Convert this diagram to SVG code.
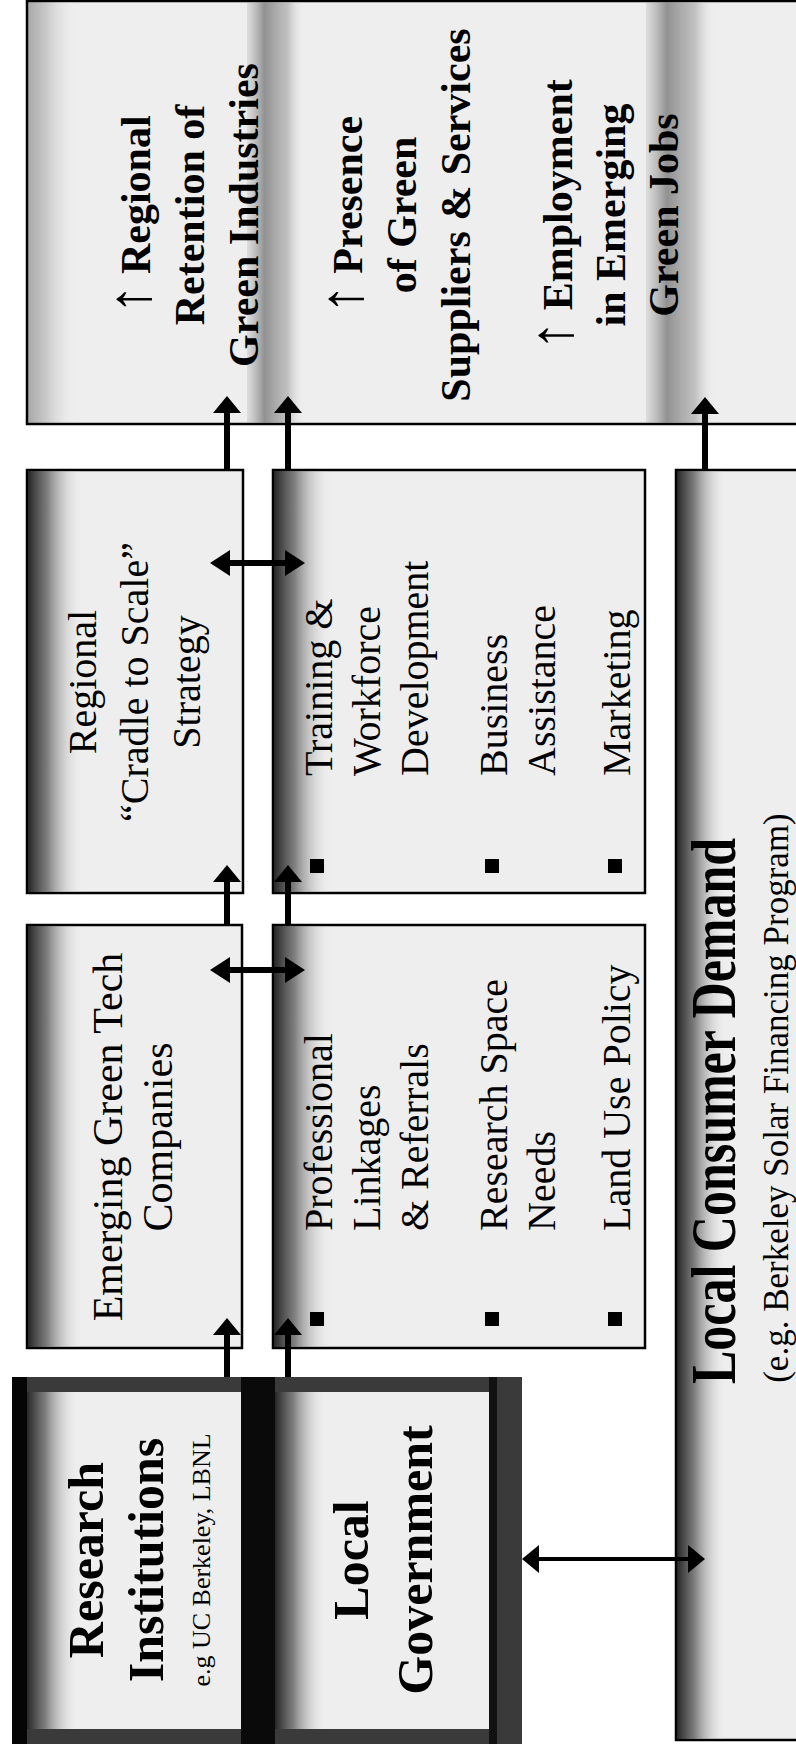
<svg xmlns="http://www.w3.org/2000/svg" width="796" height="1745" viewBox="0 0 796 1745">
<style>
.box{fill:#eeeeee;stroke:#000;stroke-width:2.5}
.t{font-family:"Liberation Serif","Times New Roman",serif;fill:#000}
.b{font-weight:bold}
.c{text-anchor:middle}
.r40{font-size:40px}
.r42{font-size:42px}
.b50{font-size:50px;font-weight:bold}
.b42{font-size:42px;font-weight:bold}
.arw{font-size:60px;font-weight:normal}
.sh{fill:url(#shade)}
.ln{stroke:#000;stroke-width:6;fill:none}
</style>
<defs>
<linearGradient id="shade" x1="0" y1="0" x2="0" y2="1">
<stop offset="0" stop-color="#262626" stop-opacity="1"/>
<stop offset="0.35" stop-color="#6a6a6a" stop-opacity="0.85"/>
<stop offset="1" stop-color="#eeeeee" stop-opacity="0"/>
</linearGradient>
<linearGradient id="band" x1="0" y1="0" x2="0" y2="1">
<stop offset="0" stop-color="#9a9a9a" stop-opacity="0.2"/>
<stop offset="0.3" stop-color="#7a7a7a" stop-opacity="0.8"/>
<stop offset="0.7" stop-color="#9a9a9a" stop-opacity="0.55"/>
<stop offset="1" stop-color="#eeeeee" stop-opacity="0"/>
</linearGradient>
<marker id="ah" viewBox="0 0 17 28" refX="3" refY="14" markerWidth="17" markerHeight="28" markerUnits="userSpaceOnUse" orient="auto-start-reverse">
<path d="M0,0 L17,14 L0,28 z" fill="#000"/>
</marker>
<marker id="ah2" viewBox="0 0 20 26" refX="3" refY="13" markerWidth="20" markerHeight="26" markerUnits="userSpaceOnUse" orient="auto-start-reverse">
<path d="M0,0 L20,13 L0,26 z" fill="#000"/>
</marker>
</defs>
<rect x="0" y="0" width="796" height="1745" fill="#ffffff"/>
<g transform="translate(0 1745) rotate(-90)">

<g id="outcomes">
<rect class="box" x="1321" y="27" width="423" height="800"/>
<rect x="1322" y="28" width="421" height="50" fill="url(#shade)" opacity="0.35"/>
<rect x="1322" y="247" width="421" height="58" fill="url(#band)"/>
<rect x="1322" y="646" width="421" height="70" fill="url(#band)"/>
<text class="t b42 c" x="1530" y="150"><tspan class="arw">↑</tspan> Regional</text>
<text class="t b42 c" x="1530" y="204">Retention of</text>
<text class="t b42 c" x="1530" y="258">Green Industries</text>
<text class="t b42 c" x="1530" y="362"><tspan class="arw">↑</tspan> Presence</text>
<text class="t b42 c" x="1530" y="416">of Green</text>
<text class="t b42 c" x="1530" y="470">Suppliers &amp; Services</text>
<text class="t b42 c" x="1530" y="572"><tspan class="arw">↑</tspan> Employment</text>
<text class="t b42 c" x="1530" y="625">in Emerging</text>
<text class="t b42 c" x="1530" y="678">Green Jobs</text>
</g>

<g id="regional">
<rect class="box" x="852" y="27" width="423" height="216"/>
<rect class="sh" x="853" y="28" width="421" height="55"/>
<text class="t r40 c" x="1063" y="96">Regional</text>
<text class="t r40 c" x="1063" y="148">“Cradle to Scale”</text>
<text class="t r40 c" x="1063" y="200">Strategy</text>
</g>

<g id="training">
<rect class="box" x="852" y="273" width="423" height="372"/>
<rect class="sh" x="853" y="274" width="421" height="58"/>
<rect x="872" y="310" width="14" height="14" fill="#000"/>
<rect x="872" y="485" width="14" height="14" fill="#000"/>
<rect x="872" y="608" width="14" height="14" fill="#000"/>
<text class="t r40" x="969" y="332">Training &amp;</text>
<text class="t r40" x="969" y="380">Workforce</text>
<text class="t r40" x="969" y="428">Development</text>
<text class="t r40" x="969" y="507">Business</text>
<text class="t r40" x="969" y="555">Assistance</text>
<text class="t r40" x="969" y="630">Marketing</text>
</g>

<g id="emerging">
<rect class="box" x="397" y="27" width="423" height="215"/>
<rect class="sh" x="398" y="28" width="421" height="55"/>
<text class="t r42 c" x="608" y="122">Emerging Green Tech</text>
<text class="t r42 c" x="608" y="172">Companies</text>
</g>

<g id="professional">
<rect class="box" x="397" y="273" width="423" height="372"/>
<rect class="sh" x="398" y="274" width="421" height="58"/>
<rect x="419" y="310" width="14" height="14" fill="#000"/>
<rect x="419" y="485" width="14" height="14" fill="#000"/>
<rect x="419" y="608" width="14" height="14" fill="#000"/>
<text class="t r40" x="514" y="332">Professional</text>
<text class="t r40" x="514" y="380">Linkages</text>
<text class="t r40" x="514" y="428">&amp; Referrals</text>
<text class="t r40" x="514" y="507">Research Space</text>
<text class="t r40" x="514" y="555">Needs</text>
<text class="t r40" x="514" y="630">Land Use Policy</text>
</g>

<g id="consumer">
<rect class="box" x="5" y="676" width="1270" height="150"/>
<rect class="sh" x="6" y="677" width="1268" height="50"/>
<text class="t c" transform="translate(634 735) scale(1 1.25)" x="0" y="0" font-size="50" font-weight="bold">Local Consumer Demand</text>
<text class="t c" x="647" y="788" font-size="35">(e.g. Berkeley Solar Financing Program)</text>
</g>

<g id="frame">
<rect x="1" y="12" width="367" height="510" fill="#3a3a3a"/>
<rect x="1" y="12" width="367" height="15" fill="#050505"/>
<rect x="1" y="241" width="367" height="34" fill="#0a0a0a"/>
<rect x="1" y="489" width="367" height="8" fill="#111"/>
</g>

<g id="research">
<rect x="16" y="27" width="337" height="214" fill="#eeeeee"/>
<rect class="sh" x="16" y="27" width="337" height="52"/>
<text class="t b50 c" x="185" y="103">Research</text>
<text class="t b50 c" x="185" y="163">Institutions</text>
<text class="t c" x="185" y="210" font-size="26">e.g UC Berkeley, LBNL</text>
</g>

<g id="localgov">
<rect x="16" y="275" width="337" height="214" fill="#eeeeee"/>
<rect class="sh" x="16" y="275" width="337" height="52"/>
<text class="t b50 c" x="185" y="368">Local</text>
<text class="t b50 c" x="185" y="432">Government</text>
</g>

<g id="connectors">
<line class="ln" x1="368" y1="227" x2="413" y2="227" marker-end="url(#ah)"/>
<line class="ln" x1="368" y1="288" x2="413" y2="288" marker-end="url(#ah)"/>
<line class="ln" x1="820" y1="227" x2="866" y2="227" marker-end="url(#ah)"/>
<line class="ln" x1="820" y1="288" x2="866" y2="288" marker-end="url(#ah)"/>
<line class="ln" x1="1275" y1="227" x2="1335" y2="227" marker-end="url(#ah)"/>
<line class="ln" x1="1275" y1="288" x2="1335" y2="288" marker-end="url(#ah)"/>
<line class="ln" x1="1275" y1="705" x2="1334" y2="705" marker-end="url(#ah)"/>
<line class="ln" x1="775" y1="227" x2="775" y2="288" marker-start="url(#ah2)" marker-end="url(#ah2)"/>
<line class="ln" x1="1182" y1="227" x2="1182" y2="288" marker-start="url(#ah2)" marker-end="url(#ah2)"/>
<line stroke="#000" stroke-width="4" x1="186" y1="536" x2="186" y2="691" marker-start="url(#ah)" marker-end="url(#ah)"/>
</g>
</g>
</svg>
